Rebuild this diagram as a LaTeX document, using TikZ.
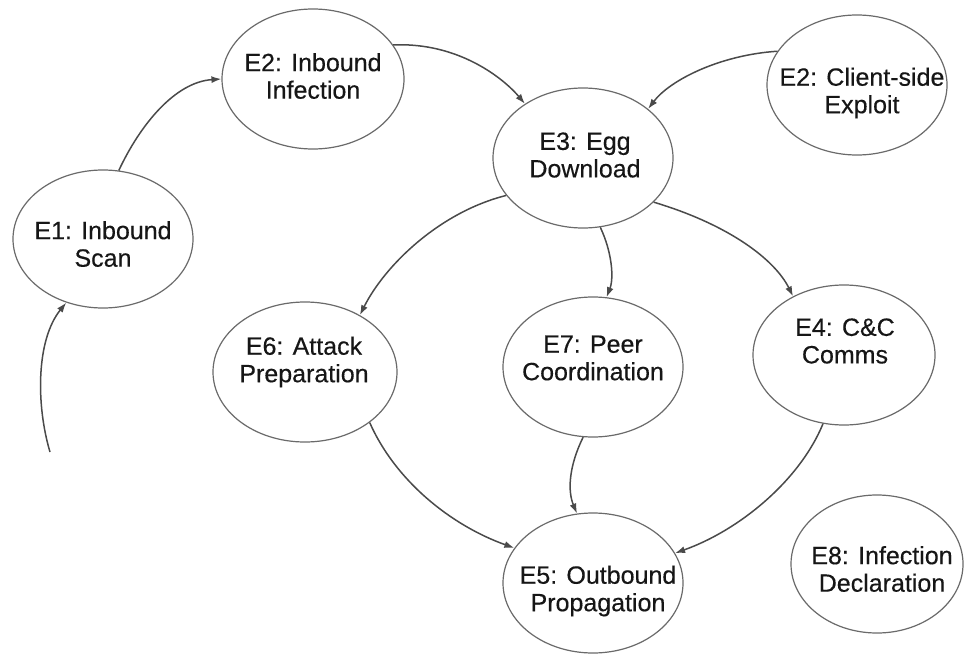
\documentclass[tikz,border=0pt]{standalone}
\usepackage{fontspec}
\newfontfamily\statefont{Liberation Sans}[FakeBold=0.35]
\usetikzlibrary{shapes.geometric,arrows.meta}
\definecolor{edgegray}{HTML}{4A4A4A}
\definecolor{rimgray}{HTML}{6A6A6A}
\definecolor{inkgray}{HTML}{161616}
\begin{document}
\begin{tikzpicture}[x=1pt,y=-1pt,
  state/.style={ellipse,draw=rimgray,line width=1.2pt,inner sep=0pt},
  caption/.style={align=center,text=inkgray,inner sep=0pt,
    font=\statefont\fontsize{25}{27.5}\selectfont},
  flow/.style={draw=edgegray,line width=1.5pt,
    -{Latex[length=10pt,width=7pt]}}]
\useasboundingbox (0,0) rectangle (965,655);
\fill[white] (0,0) rectangle (965,655);

% states
\node[state,minimum width=180pt,minimum height=138pt] (e1) at (103,239) {};
\node[state,minimum width=182pt,minimum height=140pt] (e2) at (313,79) {};
\node[state,minimum width=180pt,minimum height=140pt] (e3) at (583,158) {};
\node[state,minimum width=180pt,minimum height=140pt] (e2c) at (857,85) {};
\node[state,minimum width=184pt,minimum height=140pt] (e6) at (305,372) {};
\node[state,minimum width=180pt,minimum height=140pt] (e7) at (593,367) {};
\node[state,minimum width=182pt,minimum height=140pt] (e4) at (844,355) {};
\node[state,minimum width=180pt,minimum height=140pt] (e5) at (593,583) {};
\node[state,minimum width=172pt,minimum height=138pt] (e8) at (877,564) {};

% captions
\node[caption] (e1t) at (103,244) {E1: Inbound\\Scan};
\node[caption] (e2t) at (313,76) {E2: Inbound\\Infection};
\node[caption] (e3t) at (585,155) {E3: Egg\\Download};
\node[caption] (e2ct) at (862,93) {E2: Client-side\\Exploit};
\node[caption] (e6t) at (304,362) {E6: Attack\\Preparation};
\node[caption] (e7t) at (593,358) {E7: Peer\\Coordination};
\node[caption] (e4t) at (845,341) {E4: C\&C\\Comms};
\node[caption] (e5t) at (598,591) {E5: Outbound\\Propagation};
\node[caption] (e8t) at (882,569) {E8: Infection\\Declaration};

% transitions
\coordinate (entry) at (50,452);
\draw[flow] (entry) .. controls (36,405) and (36,340) .. (e1.240);
\draw[flow] (e1.77) .. controls (140,125) and (175,82) .. (e2.180);
\draw[flow] (e2.23) .. controls (460,42) and (505,80) .. (e3.137);
\draw[flow] (e2c.157) .. controls (720,55) and (670,80) .. (e3.37);
\draw[flow] (e3.206) .. controls (440,212) and (385,265) .. (e6.46);
\draw[flow] (e3.284) .. controls (612,252) and (614,278) .. (e7.79);
\draw[flow] (e3.328) .. controls (730,225) and (775,260) .. (e4.131);
\draw[flow] (e6.322) .. controls (395,480) and (450,525) .. (e5.156);
\draw[flow] (e7.262) .. controls (568,468) and (568,492) .. (e5.103);
\draw[flow] (e4.253) .. controls (800,480) and (740,530) .. (e5.20);
\end{tikzpicture}
\end{document}
